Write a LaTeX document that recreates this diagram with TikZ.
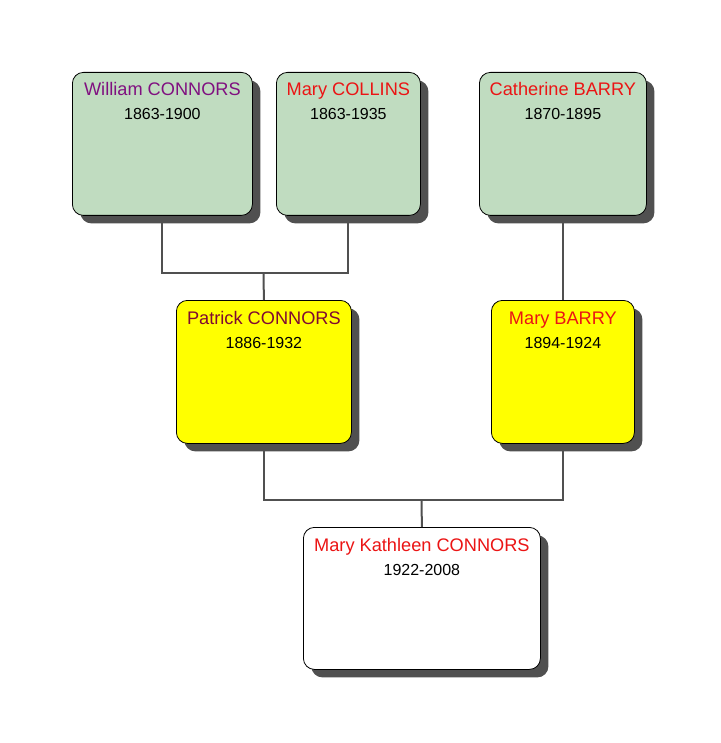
\documentclass[tikz,border=0pt]{standalone}
\usepackage{fontspec}
\setmainfont{Liberation Sans}
\usetikzlibrary{calc,shadows}

\definecolor{boxgreen}{RGB}{192,220,192}
\definecolor{boxyellow}{RGB}{255,255,0}
\definecolor{shadowgray}{RGB}{80,80,80}
\definecolor{namered}{RGB}{235,20,20}
\definecolor{namepurple}{RGB}{128,16,128}
\definecolor{namemaroon}{RGB}{128,10,50}

\tikzset{
  person/.style={draw=black, line width=0.8pt, rounded corners=11pt, anchor=north west,
    inner sep=0pt, drop shadow={shadow xshift=8pt, shadow yshift=-8pt,
    fill=shadowgray, opacity=1}},
  greenbox/.style={person, fill=boxgreen},
  yellowbox/.style={person, fill=boxyellow},
  whitebox/.style={person, fill=white},
  nametext/.style={anchor=base, inner sep=0pt, font=\fontsize{18.2}{21}\selectfont},
  datetext/.style={anchor=base, inner sep=0pt, font=\fontsize{16}{19}\selectfont},
  link/.style={draw=shadowgray, line width=2pt}
}

\begin{document}
\begin{tikzpicture}[x=1pt,y=-1pt]
      \useasboundingbox (0,0) rectangle (720,743) ;
      % connectors first, boxes on top
      \coordinate (topjoin) at (263.5,273) ;
      \coordinate (lowjoin) at (421.5,500) ;
      % grandparents
      \node[greenbox,minimum width=180pt,minimum height=143pt] (william) at (72,72) {} ;
      \node[greenbox,minimum width=144pt,minimum height=143pt] (collins) at (276,72) {} ;
      \node[greenbox,minimum width=167pt,minimum height=143pt] (catherine) at (479,72) {} ;
      % parents
      \node[yellowbox,minimum width=175pt,minimum height=143pt] (patrick) at (176,300) {} ;
      \node[yellowbox,minimum width=143pt,minimum height=143pt] (marybarry) at (491,300) {} ;
      % child
      \node[whitebox,minimum width=237pt,minimum height=142pt] (kathleen) at (303,527) {} ;
      \draw[link] (william.south) |- (topjoin) -| (collins.south) ;
      \draw[link] (topjoin) -- (patrick.north) ;
      \draw[link] (catherine.south) -- (marybarry.north) ;
      \draw[link] (patrick.south) |- (lowjoin) -| (marybarry.south) ;
      \draw[link] (lowjoin) -- (kathleen.north) ;
      % names and dates
      \node[nametext,text=namepurple] (williamname) at ($(william.north)+(0,24)$) {William CONNORS} ;
      \node[datetext] (williamdates) at ($(william.north)+(0,48)$) {1863-1900} ;
      \node[nametext,text=namered] (collinsname) at ($(collins.north)+(0,24)$) {Mary COLLINS} ;
      \node[datetext] (collinsdates) at ($(collins.north)+(0,48)$) {1863-1935} ;
      \node[nametext,text=namered] (catherinename) at ($(catherine.north)+(0,24)$) {Catherine BARRY} ;
      \node[datetext] (catherinedates) at ($(catherine.north)+(0,48)$) {1870-1895} ;
      \node[nametext,text=namemaroon] (patrickname) at ($(patrick.north)+(0,24)$) {Patrick CONNORS} ;
      \node[datetext] (patrickdates) at ($(patrick.north)+(0,48)$) {1886-1932} ;
      \node[nametext,text=namered] (marybarryname) at ($(marybarry.north)+(0,24)$) {Mary BARRY} ;
      \node[datetext] (marybarrydates) at ($(marybarry.north)+(0,48)$) {1894-1924} ;
      \node[nametext,text=namered] (kathleenname) at ($(kathleen.north)+(0,24)$) {Mary Kathleen CONNORS} ;
      \node[datetext] (kathleendates) at ($(kathleen.north)+(0,48)$) {1922-2008} ;
\end{tikzpicture}
\end{document}
